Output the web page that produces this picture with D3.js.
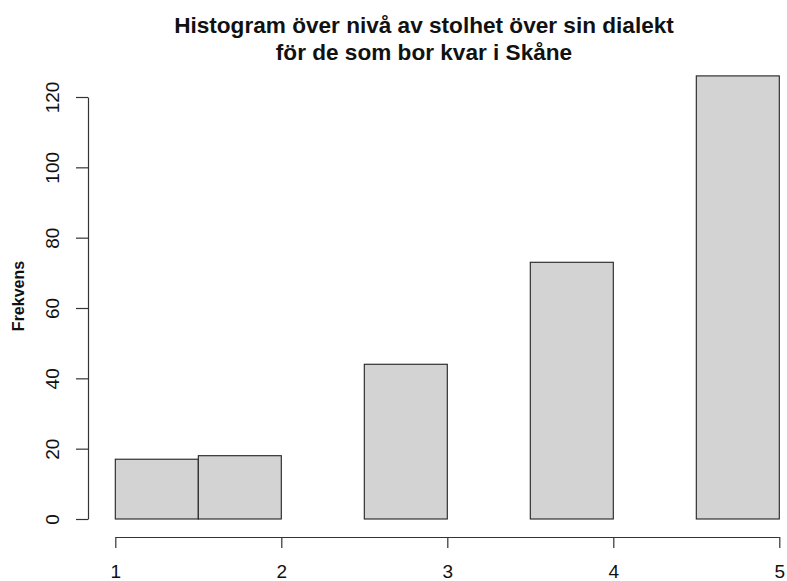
<!DOCTYPE html>
<html><head><meta charset="utf-8">
<script src="https://cdn.jsdelivr.net/npm/d3@7"></script>
<style>body{margin:0;background:#fff}</style>
</head><body>
<script>
const binEdges = [1, 1.5, 2, 2.5, 3, 3.5, 4, 4.5, 5];
const counts = [17, 18, 0, 44, 0, 73, 0, 126];
const xTicks = [1, 2, 3, 4, 5];
const yTicks = [0, 20, 40, 60, 80, 100, 120];
const titleLines = ["Histogram över nivå av stolhet över sin dialekt", "för de som bor kvar i Skåne"];
const yLabel = "Frekvens";

const W = 787, H = 581;
const FONT = "'Liberation Sans', Arial, sans-serif";
const svg = d3.select("body").append("svg").attr("width", W).attr("height", H)
  .style("font-family", FONT);

const x = d3.scaleLinear().domain([1, 5]).range([115.3, 779.3]);
const y = d3.scaleLinear().domain([0, 120]).range([519, 97]);

const bins = counts.map((c, i) => ({x0: binEdges[i], x1: binEdges[i + 1], c}));
svg.append("g").selectAll("rect").data(bins).join("rect")
  .attr("x", d => x(d.x0)).attr("width", d => x(d.x1) - x(d.x0))
  .attr("y", d => y(d.c)).attr("height", d => y(0) - y(d.c))
  .attr("fill", "#d3d3d3").attr("stroke", "#222").attr("stroke-width", 1.1);

const xAxis = svg.append("g").attr("transform", "translate(0,537)")
  .call(d3.axisBottom(x).tickValues(xTicks).tickFormat(d3.format("d")).tickSize(11).tickSizeOuter(0).tickPadding(13));
const yAxis = svg.append("g").attr("transform", "translate(88,0)")
  .call(d3.axisLeft(y).tickValues(yTicks).tickSize(12).tickSizeOuter(0).tickPadding(0));

[xAxis, yAxis].forEach(a => {
  a.select(".domain").attr("stroke", "#333").attr("stroke-width", 1.2);
  a.selectAll(".tick line").attr("stroke", "#333").attr("stroke-width", 1.2);
  a.selectAll("text").attr("font-size", 19).attr("fill", "#111").attr("font-family", FONT);
});
xAxis.selectAll(".tick text").attr("y", null).attr("dy", null)
  .attr("transform", "translate(0,41)");
yAxis.selectAll(".tick text")
  .attr("x", 0).attr("dy", null)
  .attr("text-anchor", "middle")
  .attr("transform", "translate(-29,0) rotate(-90)");

svg.append("text").attr("transform", "translate(23.5,296) rotate(-90)")
  .attr("text-anchor", "middle")
  .attr("font-size", 16).attr("font-weight", "bold").attr("fill", "#111").text(yLabel);

svg.selectAll(".title").data(titleLines).join("text").attr("class", "title")
  .attr("x", 424).attr("y", (d, i) => 33 + i * 27)
  .attr("text-anchor", "middle").attr("font-size", 22.6).attr("font-weight", "bold").attr("fill", "#111")
  .text(d => d);
</script>
</body></html>
